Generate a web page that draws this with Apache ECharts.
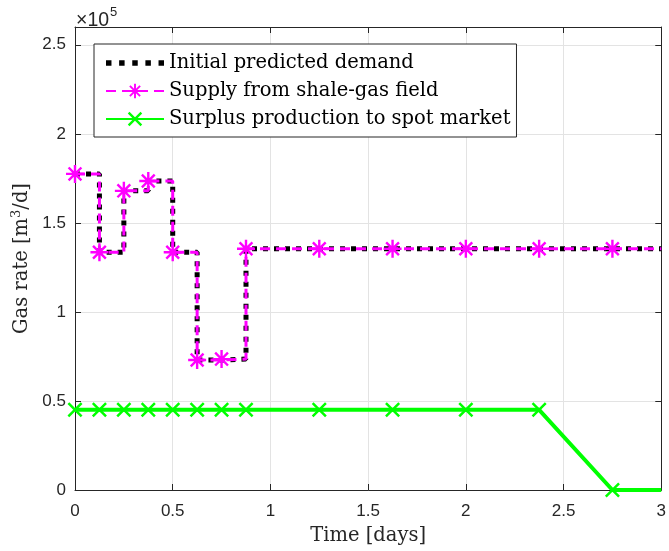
<!DOCTYPE html>
<html>
<head>
<meta charset="utf-8">
<script src="https://cdn.jsdelivr.net/npm/echarts@6/dist/echarts.min.js"></script>
<style>html,body{margin:0;padding:0;background:#fff;}#c{width:669px;height:551px;}</style>
</head>
<body>
<div id="c"></div>
<script>
// Time points [days]
const timeDays = [0, 0.125, 0.25, 0.375, 0.5, 0.625, 0.75, 0.875, 1.25, 1.625, 2.0, 2.375, 2.75, 3];
// Gas rates [m3/d]
const demand  = [177500, 133500, 168000, 173500, 133500, 73000, 73500, 135500, 135500, 135500, 135500, 135500, 135500, 135500];
const supply  = [177500, 133500, 168000, 173500, 133500, 73000, 73500, 135500, 135500, 135500, 135500, 135500, 135500, 135500];
const surplus = [45000, 45000, 45000, 45000, 45000, 45000, 45000, 45000, 45000, 45000, 45000, 45000, 0, 0];
const xTicks = [0, 0.5, 1, 1.5, 2, 2.5, 3];
const yTicks = [0, 0.5, 1, 1.5, 2, 2.5];
const seriesNames = ['Initial predicted demand', 'Supply from shale-gas field', 'Surplus production to spot market'];

const asterisk = 'path://M1 8.8L19 8.8L19 11.2L1 11.2ZM8.8 1L11.2 1L11.2 19L8.8 19ZM4.45 2.75L17.25 15.55L15.55 17.25L2.75 4.45ZM17.25 4.45L4.45 17.25L2.75 15.55L15.55 2.75Z';
const cross = 'path://M4.45 2.75L17.25 15.55L15.55 17.25L2.75 4.45ZM17.25 4.45L4.45 17.25L2.75 15.55L15.55 2.75Z';
const dotsIcon = 'path://M0 0h5v5h-5ZM12 0h5v5h-5ZM24 0h5v5h-5ZM36 0h5v5h-5ZM48 0h5v5h-5Z';

function pts(ys, lastNoSymbol) {
  return timeDays.map((t, i) => {
    if (lastNoSymbol && i === timeDays.length - 1) return { value: [t, ys[i]], symbol: 'none' };
    return [t, ys[i]];
  });
}

const serif = 'DejaVu Serif';
const sans = 'Liberation Sans';
const axisCol = '#262626';

const chart = echarts.init(document.getElementById('c'));
chart.setOption({
  animation: false,
  backgroundColor: '#fff',
  graphic: [{
    type: 'text', left: 76, top: 6, silent: true,
    style: {
      text: '{b|×10}{sup|5}',
      rich: {
        b: { fontFamily: sans, fontSize: 19.5, fill: axisCol, verticalAlign: 'bottom' },
        sup: { fontFamily: sans, fontSize: 13, fill: axisCol, verticalAlign: 'top', padding: [0, 0, 12, 1] }
      }
    }
  }],
  grid: { left: 75, right: 6, top: 27, bottom: 61, containLabel: false },
  legend: {
    orient: 'vertical', left: 94, top: 44,
    padding: [9, 6, 8, 11], itemGap: 8, itemWidth: 58, itemHeight: 18,
    backgroundColor: '#fff', borderColor: axisCol, borderWidth: 1, borderRadius: 0,
    textStyle: { fontFamily: serif, fontSize: 19.5, color: '#000' },
    data: [
      { name: seriesNames[0], icon: dotsIcon, itemStyle: { color: '#000' } },
      seriesNames[1],
      seriesNames[2]
    ]
  },
  xAxis: [{
    type: 'value', min: 0, max: 3, interval: 0.5,
    name: 'Time [days]', nameLocation: 'middle', nameGap: 36,
    nameTextStyle: { fontFamily: serif, fontSize: 19.5, color: axisCol },
    axisLine: { show: true, lineStyle: { color: axisCol, width: 1 } },
    axisTick: { show: true, inside: true, length: 6, lineStyle: { color: axisCol } },
    axisLabel: { fontFamily: sans, fontSize: 17, color: axisCol, margin: 13,
      formatter: v => xTicks.includes(v) ? String(v) : '' },
    splitLine: { show: true, lineStyle: { color: '#e3e3e3', width: 1 } }
  }, {
    type: 'value', min: 0, max: 3, interval: 0.5, position: 'top',
    axisLine: { show: true, onZero: false, lineStyle: { color: axisCol, width: 1 } },
    axisTick: { show: true, inside: true, length: 6, lineStyle: { color: axisCol } },
    axisLabel: { show: false }, splitLine: { show: false }
  }],
  yAxis: [{
    type: 'value', min: 0, max: 260000, interval: 50000,
    name: 'Gas rate [m{sup|3}/d]', nameLocation: 'middle', nameGap: 40,
    nameTextStyle: { fontFamily: serif, fontSize: 19.5, color: axisCol,
      rich: { sup: { fontFamily: serif, fontSize: 13, color: axisCol, verticalAlign: 'top', padding: [0, 0, 9, 0] } } },
    axisLine: { show: true, lineStyle: { color: axisCol, width: 1 } },
    axisTick: { show: true, inside: true, length: 6, lineStyle: { color: axisCol } },
    axisLabel: { fontFamily: sans, fontSize: 17, color: axisCol, margin: 9, showMaxLabel: false,
      formatter: v => { const k = v / 100000; return yTicks.includes(k) ? String(k) : ''; } },
    splitLine: { show: true, lineStyle: { color: '#e3e3e3', width: 1 } }
  }, {
    type: 'value', min: 0, max: 260000, interval: 50000, position: 'right',
    axisLine: { show: true, onZero: false, lineStyle: { color: axisCol, width: 1 } },
    axisTick: { show: true, inside: true, length: 6, lineStyle: { color: axisCol } },
    axisLabel: { show: false }, splitLine: { show: false }
  }],
  series: [{
    name: seriesNames[0], type: 'line', step: 'end',
    data: pts(demand, false), symbol: 'none',
    lineStyle: { color: '#000', width: 5, type: [5, 6], cap: 'butt' },
    itemStyle: { color: '#000' }, z: 2
  }, {
    name: seriesNames[1], type: 'line', step: 'end',
    data: pts(supply, true), symbol: asterisk, symbolSize: 18,
    lineStyle: { color: '#ff00ff', width: 3, type: [10, 6], cap: 'butt' },
    itemStyle: { color: '#ff00ff' }, z: 3
  }, {
    name: seriesNames[2], type: 'line',
    data: pts(surplus, true), symbol: cross, symbolSize: 15,
    lineStyle: { color: '#00ff00', width: 4 },
    itemStyle: { color: '#00ff00' }, z: 4
  }]
});
</script>
</body>
</html>
